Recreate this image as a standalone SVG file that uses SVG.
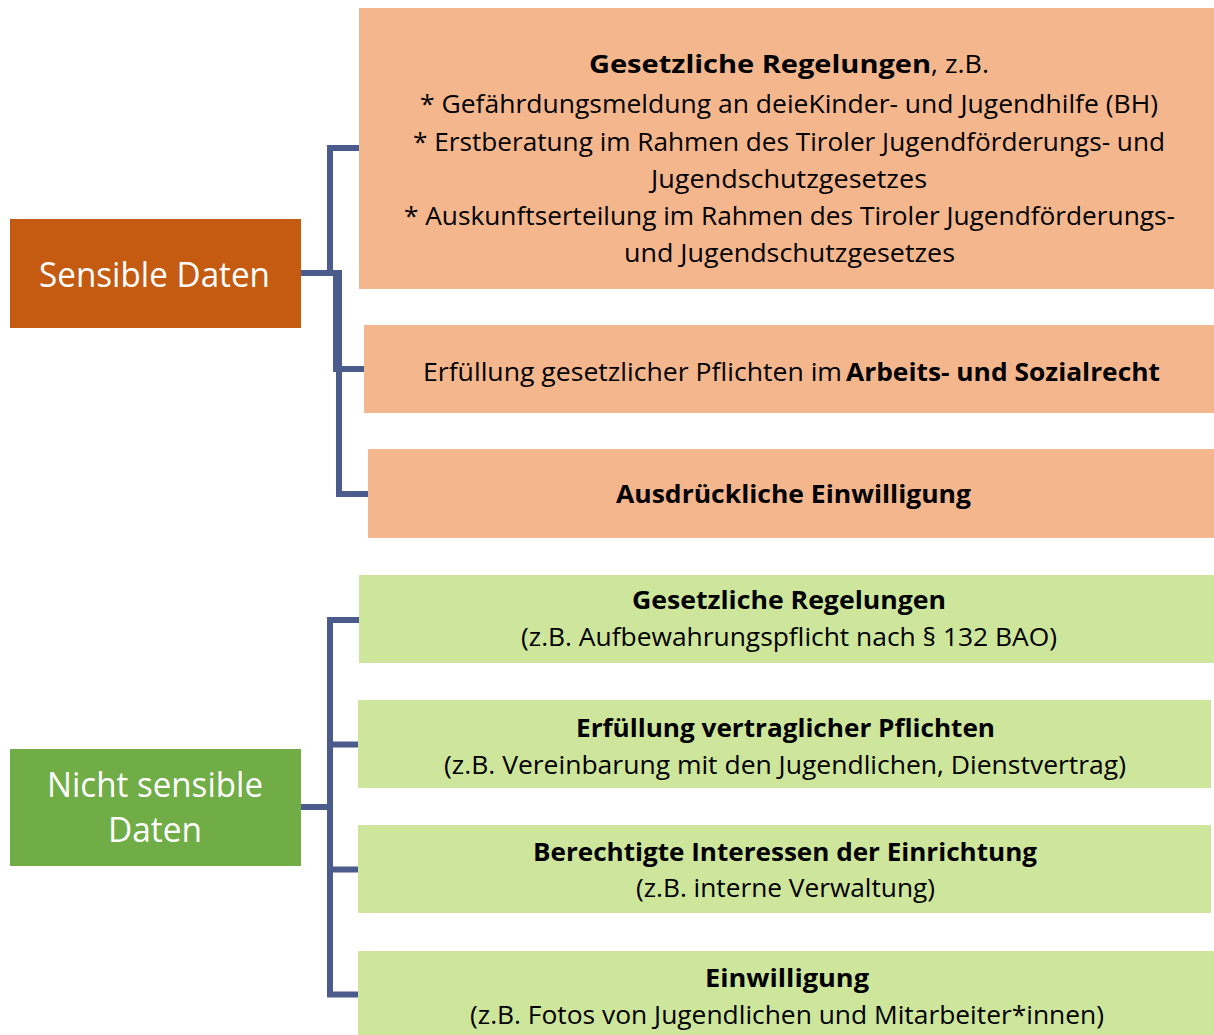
<svg xmlns="http://www.w3.org/2000/svg" width="1214" height="1035" viewBox="0 0 1214 1035">
<style>
.t{font-family:"Open Sans","Noto Sans","Liberation Sans",sans-serif;font-size:25.5px;fill:#000}
.b{font-weight:bold}
.w{font-family:"Open Sans","Noto Sans","Liberation Sans",sans-serif;font-size:35px;fill:#fff}
.o{fill:#F4B68D}
.g{fill:#CDE69B}
.c{fill:none;stroke:#4A5B8C;stroke-width:6;stroke-linejoin:miter}
</style>
<rect width="1214" height="1035" fill="#fff"/>
<g id="connectors">
<path class="c" d="M301,273 H330 V148 H359"/>
<path class="c" d="M301,273 H336 V369 H364"/>
<path class="c" d="M301,273 H339 V494 H368"/>
<path class="c" d="M301,807 H330 V620 H359"/>
<path class="c" d="M301,807 H330 V744.5 H358"/>
<path class="c" d="M301,807 H330 V869.5 H358"/>
<path class="c" d="M301,807 H330 V994.5 H358"/>
</g>
<g id="sensible">
<rect x="10" y="219" width="291" height="109" fill="#C55A11"/>
<text class="w" x="39" y="287" textLength="231" lengthAdjust="spacingAndGlyphs">Sensible Daten</text>
</g>
<g id="nicht-sensible">
<rect x="10" y="749" width="291" height="117" fill="#70AD47"/>
<text class="w" x="47" y="797" textLength="216" lengthAdjust="spacingAndGlyphs">Nicht sensible</text>
<text class="w" x="108" y="842" textLength="94" lengthAdjust="spacingAndGlyphs">Daten</text>
</g>
<g id="s-gesetz">
<rect class="o" x="359" y="8" width="855" height="281"/>
<text class="t b" x="589" y="73" textLength="342" lengthAdjust="spacingAndGlyphs">Gesetzliche Regelungen</text>
<text class="t" x="931" y="73" textLength="58" lengthAdjust="spacingAndGlyphs">, z.B.</text>
<text class="t" x="420" y="113" textLength="738" lengthAdjust="spacingAndGlyphs">* Gefährdungsmeldung an deieKinder- und Jugendhilfe (BH)</text>
<text class="t" x="413" y="151" textLength="752" lengthAdjust="spacingAndGlyphs">* Erstberatung im Rahmen des Tiroler Jugendförderungs- und</text>
<text class="t" x="651" y="188" textLength="276" lengthAdjust="spacingAndGlyphs">Jugendschutzgesetzes</text>
<text class="t" x="404" y="225" textLength="771" lengthAdjust="spacingAndGlyphs">* Auskunftserteilung im Rahmen des Tiroler Jugendförderungs-</text>
<text class="t" x="624" y="262" textLength="331" lengthAdjust="spacingAndGlyphs">und Jugendschutzgesetzes</text>
</g>
<g id="s-arbeit">
<rect class="o" x="364" y="325" width="850" height="88"/>
<text class="t" x="423" y="381" textLength="419" lengthAdjust="spacingAndGlyphs">Erfüllung gesetzlicher Pflichten im</text>
<text class="t b" x="846" y="381" textLength="314" lengthAdjust="spacingAndGlyphs">Arbeits- und Sozialrecht</text>
</g>
<g id="s-einwilligung">
<rect class="o" x="368" y="449" width="846" height="89"/>
<text class="t b" x="616" y="503" textLength="355" lengthAdjust="spacingAndGlyphs">Ausdrückliche Einwilligung</text>
</g>
<g id="n-gesetz">
<rect class="g" x="359" y="575" width="855" height="88"/>
<text class="t b" x="632" y="609" textLength="314" lengthAdjust="spacingAndGlyphs">Gesetzliche Regelungen</text>
<text class="t" x="521" y="646" textLength="536" lengthAdjust="spacingAndGlyphs">(z.B. Aufbewahrungspflicht nach § 132 BAO)</text>
</g>
<g id="n-vertrag">
<rect class="g" x="358" y="700" width="853" height="88"/>
<text class="t b" x="576" y="737" textLength="419" lengthAdjust="spacingAndGlyphs">Erfüllung vertraglicher Pflichten</text>
<text class="t" x="444" y="774" textLength="682" lengthAdjust="spacingAndGlyphs">(z.B. Vereinbarung mit den Jugendlichen, Dienstvertrag)</text>
</g>
<g id="n-interesse">
<rect class="g" x="358" y="825" width="853" height="88"/>
<text class="t b" x="533" y="861" textLength="504" lengthAdjust="spacingAndGlyphs">Berechtigte Interessen der Einrichtung</text>
<text class="t" x="636" y="897" textLength="299" lengthAdjust="spacingAndGlyphs">(z.B. interne Verwaltung)</text>
</g>
<g id="n-einwilligung">
<rect class="g" x="358" y="951" width="856" height="84"/>
<text class="t b" x="705" y="987" textLength="164" lengthAdjust="spacingAndGlyphs">Einwilligung</text>
<text class="t" x="470" y="1024" textLength="634" lengthAdjust="spacingAndGlyphs">(z.B. Fotos von Jugendlichen und Mitarbeiter*innen)</text>
</g>
</svg>
